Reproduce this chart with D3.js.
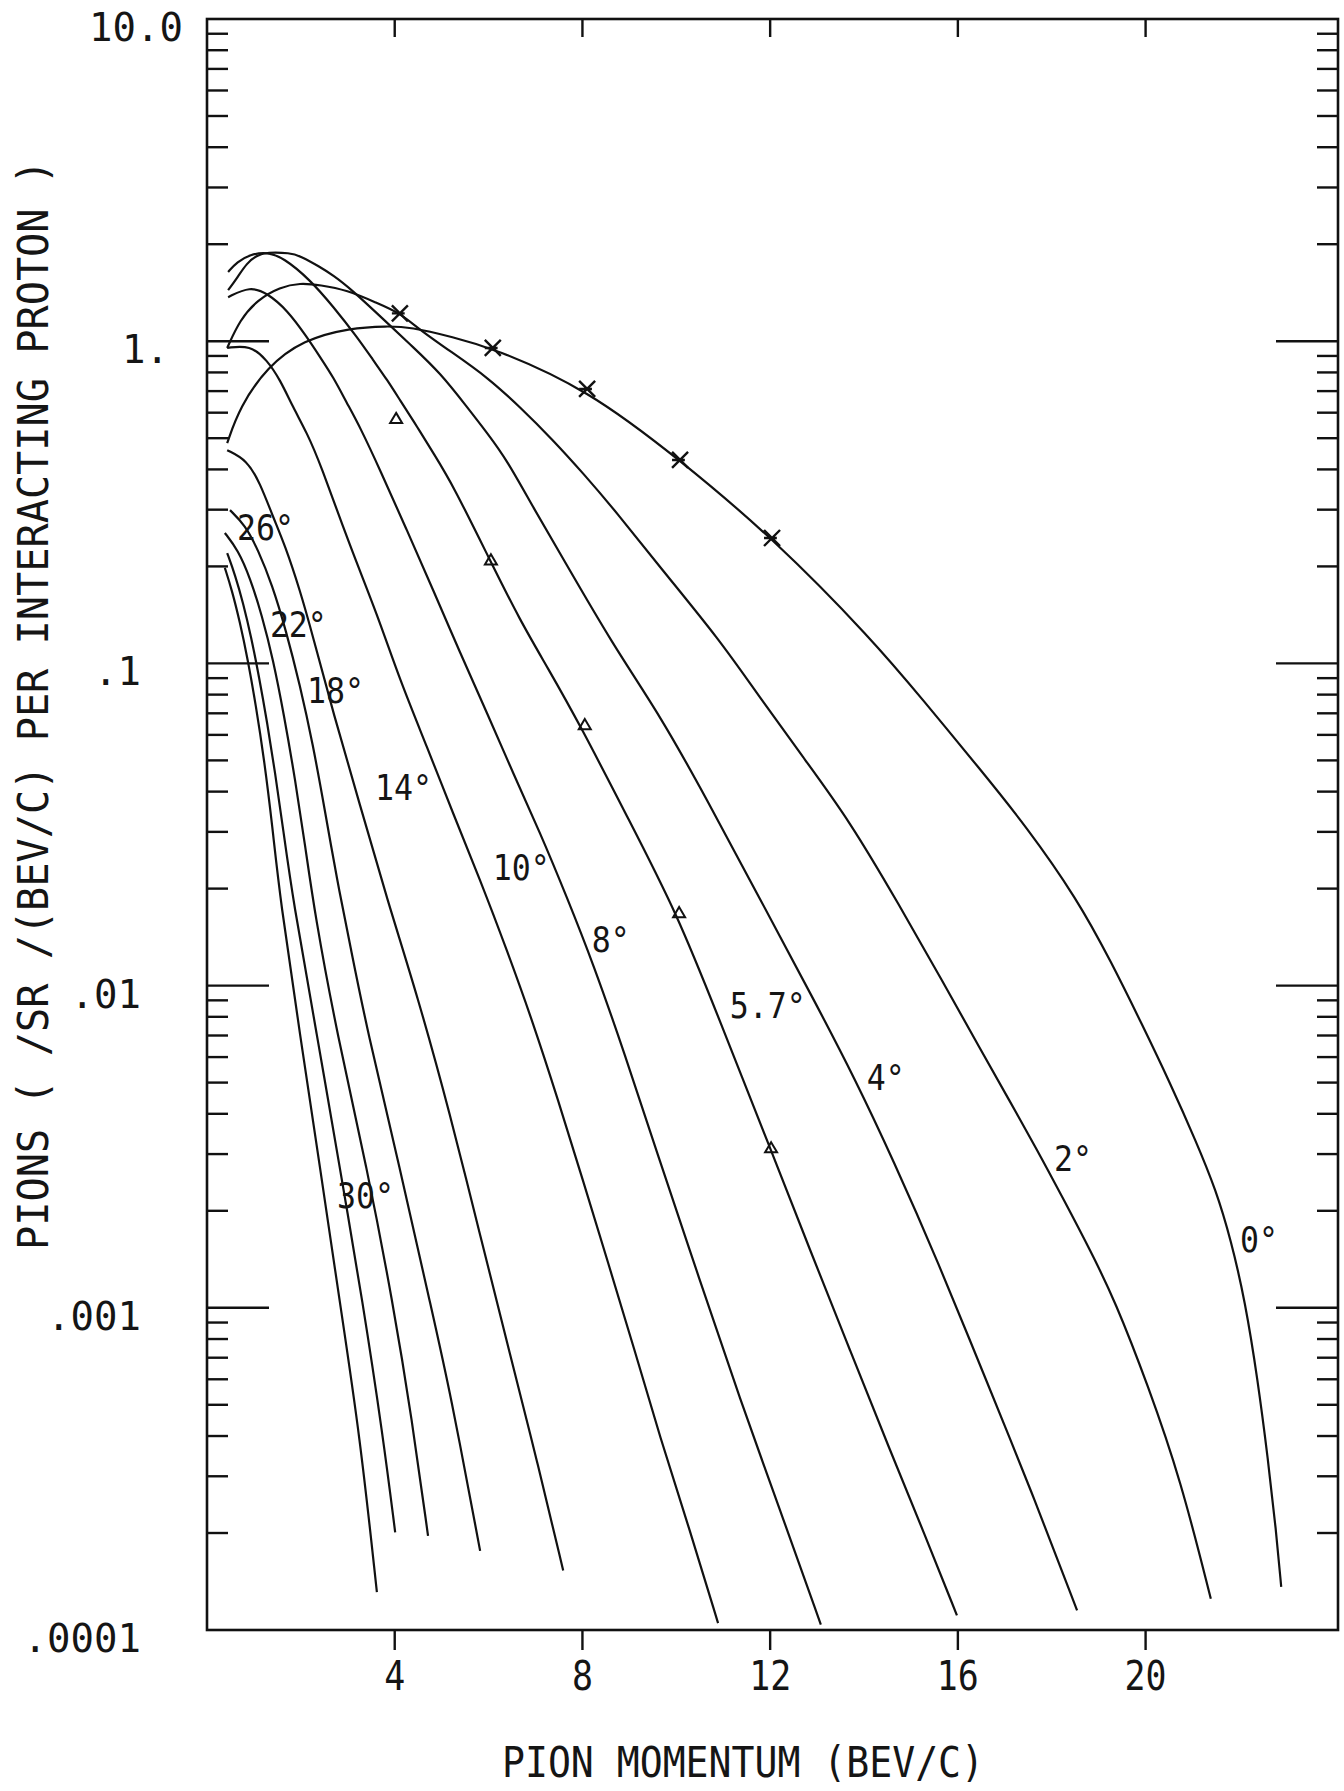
<!DOCTYPE html>
<html>
<head>
<meta charset="utf-8">
<title>Pions per interacting proton vs pion momentum</title>
<script src="https://cdn.jsdelivr.net/npm/d3@7"></script>
<style>
  body { margin: 0; background: #fff; }
  svg text { font-family: "DejaVu Sans Mono", monospace; fill: #151515; }
</style>
</head>
<body>
<script>
// curves: [momentum BeV/c, pions /sr /(BeV/c) per interacting proton]
var curve0 = [[0.43,0.483],[0.70,0.625],[1.28,0.832],[2.05,1.01],[3.05,1.10],[3.84,1.114],[4.33,1.107],[5.24,1.03],[6.09,0.953],[8.10,0.711],[10.08,0.428],[12.06,0.245],[14.19,0.118],[15.26,0.0769],[16.47,0.047],[17.45,0.0313],[18.54,0.0186],[19.26,0.0119],[19.94,0.0075],[20.52,0.00499],[21.07,0.0033],[21.50,0.00232],[21.82,0.00162],[22.12,0.00105],[22.39,0.000597],[22.61,0.000337],[22.78,0.000204],[22.89,0.000136]];
var curve2 = [[0.43,0.953],[0.70,1.164],[1.07,1.343],[1.56,1.473],[1.98,1.516],[2.41,1.494],[2.98,1.442],[3.62,1.314],[4.11,1.224],[4.54,1.083],[5.24,0.919],[5.97,0.774],[6.67,0.625],[7.37,0.494],[8.01,0.39],[8.74,0.293],[9.65,0.199],[10.93,0.118],[11.74,0.0798],[12.70,0.0512],[13.68,0.0327],[14.75,0.0178],[15.66,0.0104],[16.49,0.00631],[17.09,0.00442],[17.69,0.00309],[18.26,0.00216],[18.82,0.00151],[19.35,0.00105],[20.05,0.000575],[20.75,0.000292],[21.39,0.000125]];
var curve4 = [[0.45,1.44],[0.64,1.57],[0.85,1.75],[1.07,1.85],[1.28,1.89],[1.77,1.88],[1.98,1.84],[2.41,1.70],[2.69,1.60],[3.05,1.46],[3.84,1.14],[4.39,0.959],[4.97,0.797],[5.54,0.625],[5.97,0.519],[6.39,0.428],[6.95,0.305],[7.52,0.22],[8.65,0.114],[9.65,0.0692],[10.65,0.0379],[11.78,0.0186],[12.91,0.00916],[13.81,0.00513],[14.62,0.00288],[15.56,0.00141],[16.60,0.000597],[17.56,0.000272],[18.54,0.000115]];
var curve57 = [[0.45,1.64],[0.64,1.76],[0.92,1.86],[1.28,1.89],[1.62,1.82],[2.20,1.55],[2.69,1.28],[3.20,1.03],[3.54,0.874],[3.84,0.758],[4.11,0.657],[4.48,0.542],[4.82,0.45],[5.24,0.358],[6.03,0.209],[6.67,0.136],[7.25,0.0975],[7.95,0.0644],[8.97,0.0331],[10.02,0.0167],[10.93,0.00776],[12.00,0.00313],[12.85,0.00151],[13.70,0.00074],[14.55,0.000362],[15.30,0.000197],[15.98,0.000111]];
var curve8 = [[0.45,1.37],[0.92,1.48],[1.28,1.41],[1.71,1.25],[2.13,1.03],[2.41,0.893],[2.69,0.774],[2.98,0.643],[3.26,0.542],[3.69,0.398],[4.26,0.259],[4.82,0.169],[5.39,0.108],[5.97,0.0701],[6.52,0.0457],[7.10,0.0298],[7.67,0.0188],[8.23,0.0117],[8.91,0.00609],[9.57,0.00309],[10.50,0.00122],[11.36,0.000518],[12.21,0.000236],[13.08,0.000104]];
var curve10 = [[0.43,0.953],[0.92,0.973],[1.28,0.874],[1.56,0.758],[1.83,0.625],[2.13,0.519],[2.41,0.419],[3.05,0.23],[3.62,0.143],[4.11,0.0887],[4.69,0.055],[5.24,0.0343],[5.82,0.0213],[6.39,0.0129],[6.95,0.00766],[7.48,0.00442],[8.01,0.00249],[8.54,0.00139],[9.10,0.00075],[9.65,0.000397],[10.29,0.000204],[10.89,0.000105]];
var curve14 = [[0.43,0.459],[0.85,0.428],[1.13,0.363],[1.41,0.284],[1.66,0.233],[1.98,0.169],[2.26,0.121],[2.69,0.0701],[3.26,0.0364],[3.84,0.01845],[4.48,0.00935],[5.18,0.004],[5.82,0.00168],[6.46,0.000714],[7.03,0.000337],[7.59,0.000153]];
var curve18 = [[0.49,0.299],[0.81,0.269],[1.09,0.225],[1.39,0.175],[1.68,0.127],[1.98,0.0857],[2.26,0.0558],[2.51,0.0351],[2.77,0.0213],[3.05,0.01337],[3.41,0.00728],[4.11,0.00272],[4.75,0.00104],[5.18,0.000552],[5.82,0.000176]];
var curve22 = [[0.38,0.254],[0.66,0.225],[0.92,0.184],[1.17,0.141],[1.41,0.1026],[1.64,0.0692],[1.88,0.0435],[2.09,0.0273],[2.30,0.01656],[2.77,0.00708],[3.41,0.00272],[3.96,0.00104],[4.37,0.000449],[4.71,0.000196]];
var curve26 = [[0.43,0.22],[0.60,0.188],[0.77,0.154],[0.94,0.121],[1.11,0.0908],[1.28,0.0658],[1.45,0.046],[1.62,0.0308],[1.83,0.01845],[2.34,0.00708],[2.83,0.00272],[3.32,0.00104],[3.75,0.0004],[4.01,0.000201]];
var curve30 = [[0.38,0.198],[0.53,0.169],[0.70,0.1346],[0.87,0.1026],[1.04,0.0743],[1.22,0.0501],[1.39,0.0315],[1.56,0.01845],[1.98,0.00708],[2.41,0.00272],[2.83,0.00104],[3.26,0.0004],[3.62,0.000131]];

var angleLabels = ["0°", "2°", "4°", "5.7°", "8°", "10°", "14°", "18°", "22°", "26°", "30°"];
// where each angle label sits (lower-left of the text)
var labelP = [22.01, 18.05, 14.06, 11.14, 8.20, 6.09, 3.58, 2.13, 1.34, 0.64, 2.77];
var labelY = [0.00149, 0.00266, 0.00474, 0.00793, 0.0127, 0.0213, 0.0377, 0.0753, 0.121, 0.2415, 0.00204];

// measured points
var crossP = [4.11, 6.09, 8.10, 10.08, 12.04];
var crossY = [1.22, 0.953, 0.711, 0.428, 0.245];
var triP = [4.03, 6.05, 8.05, 10.06, 12.02];
var triY = [0.574, 0.209, 0.0644, 0.0168, 0.00313];

var xTicks = [4, 8, 12, 16, 20];
var yDecades = [10, 1, 0.1, 0.01, 0.001, 0.0001];
var yTickLabels = ["10.0", "1.", ".1", ".01", ".001", ".0001"];

var curves = [curve0, curve2, curve4, curve57, curve8, curve10, curve14, curve18, curve22, curve26, curve30];

var W = 1344, H = 1791;
var svg = d3.select("body").append("svg").attr("width", W).attr("height", H);

var x = d3.scaleLinear().domain([0, 24.1]).range([207, 1338]);
var y = d3.scaleLog().domain([0.0001, 10]).range([1630, 19]);
var xL = x.range()[0], xR = x.range()[1], yT = y.range()[1], yB = y.range()[0];

// frame
svg.append("rect")
    .attr("x", xL).attr("y", yT)
    .attr("width", xR - xL).attr("height", yB - yT)
    .attr("fill", "none").attr("stroke", "#111").attr("stroke-width", 2.6);

// y ticks, both sides, pointing inward
var minor = [];
yDecades.slice(1).forEach(function(d) {
    for (var m = 2; m <= 9; m++) minor.push(m * d);
});
var major = yDecades.slice(1, yDecades.length - 1);
var yt = svg.append("g").attr("stroke", "#111").attr("stroke-width", 2.4);
minor.forEach(function(v) {
    yt.append("line").attr("x1", xL).attr("x2", xL + 21).attr("y1", y(v)).attr("y2", y(v));
    yt.append("line").attr("x1", xR).attr("x2", xR - 21).attr("y1", y(v)).attr("y2", y(v));
});
major.forEach(function(v) {
    yt.append("line").attr("x1", xL).attr("x2", xL + 62).attr("y1", y(v)).attr("y2", y(v));
    yt.append("line").attr("x1", xR).attr("x2", xR - 62).attr("y1", y(v)).attr("y2", y(v));
});

// x ticks: inward at top, outward at bottom
xTicks.forEach(function(v) {
    yt.append("line").attr("x1", x(v)).attr("x2", x(v)).attr("y1", yT).attr("y2", yT + 18);
    yt.append("line").attr("x1", x(v)).attr("x2", x(v)).attr("y1", yB).attr("y2", yB + 20);
});

svg.append("g").selectAll("text").data(xTicks).enter().append("text")
    .attr("x", function(d) { return x(d); })
    .attr("y", yB + 60)
    .attr("text-anchor", "middle")
    .attr("font-size", 40)
    .attr("textLength", function(d) { return String(d).length * 21; })
    .attr("lengthAdjust", "spacingAndGlyphs")
    .text(function(d) { return d; });

var labelShift = { "10.0": 42, "1.": 28 };
svg.append("g").selectAll("text").data(yDecades).enter().append("text")
    .attr("x", function(d, i) { return 141 + (labelShift[yTickLabels[i]] || 0); })
    .attr("y", function(d) { return y(d) + 22; })
    .attr("text-anchor", "end")
    .attr("font-size", 39)
    .text(function(d, i) { return yTickLabels[i]; });

// axis titles
svg.append("text")
    .attr("x", 743).attr("y", 1777)
    .attr("text-anchor", "middle")
    .attr("font-size", 43)
    .attr("textLength", 482).attr("lengthAdjust", "spacingAndGlyphs")
    .text("PION MOMENTUM (BEV/C)");

svg.append("text")
    .attr("transform", "translate(48,705) rotate(-90)")
    .attr("text-anchor", "middle")
    .attr("font-size", 42)
    .attr("textLength", 1090).attr("lengthAdjust", "spacingAndGlyphs")
    .text("PIONS  ( /SR /(BEV/C) PER INTERACTING PROTON )");

// curves
var line = d3.line()
    .x(function(d) { return x(d[0]); })
    .y(function(d) { return y(d[1]); })
    .curve(d3.curveBasis);

svg.append("g").selectAll("path").data(curves).enter().append("path")
    .attr("d", line)
    .attr("fill", "none")
    .attr("stroke", "#111")
    .attr("stroke-width", 2.2)
    .attr("stroke-linejoin", "round");

// angle labels
svg.append("g").selectAll("text").data(angleLabels).enter().append("text")
    .attr("x", function(d, i) { return x(labelP[i]); })
    .attr("y", function(d, i) { return y(labelY[i]); })
    .attr("font-size", 36)
    .attr("textLength", function(d) { return d.length * 19; })
    .attr("lengthAdjust", "spacingAndGlyphs")
    .text(function(d) { return d; });

// × marks
var mk = svg.append("g").attr("stroke", "#111").attr("stroke-width", 2.4).attr("fill", "none");
crossP.forEach(function(p, i) {
    var cx = x(p), cy = y(crossY[i]), s = 8;
    mk.append("path").attr("d",
        "M" + (cx - s) + "," + (cy - s) + "L" + (cx + s) + "," + (cy + s) +
        "M" + (cx - s) + "," + (cy + s) + "L" + (cx + s) + "," + (cy - s) +
        "M" + (cx - s) + "," + cy + "L" + (cx + s * 0.6) + "," + cy);
});
// triangle marks
triP.forEach(function(p, i) {
    var cx = x(p), cy = y(triY[i]), s = 6;
    mk.append("path").attr("stroke-width", 2)
        .attr("d", "M" + cx + "," + (cy - s) + "L" + (cx + s) + "," + (cy + s * 0.7) +
            "L" + (cx - s) + "," + (cy + s * 0.7) + "Z");
});
</script>
</body>
</html>
